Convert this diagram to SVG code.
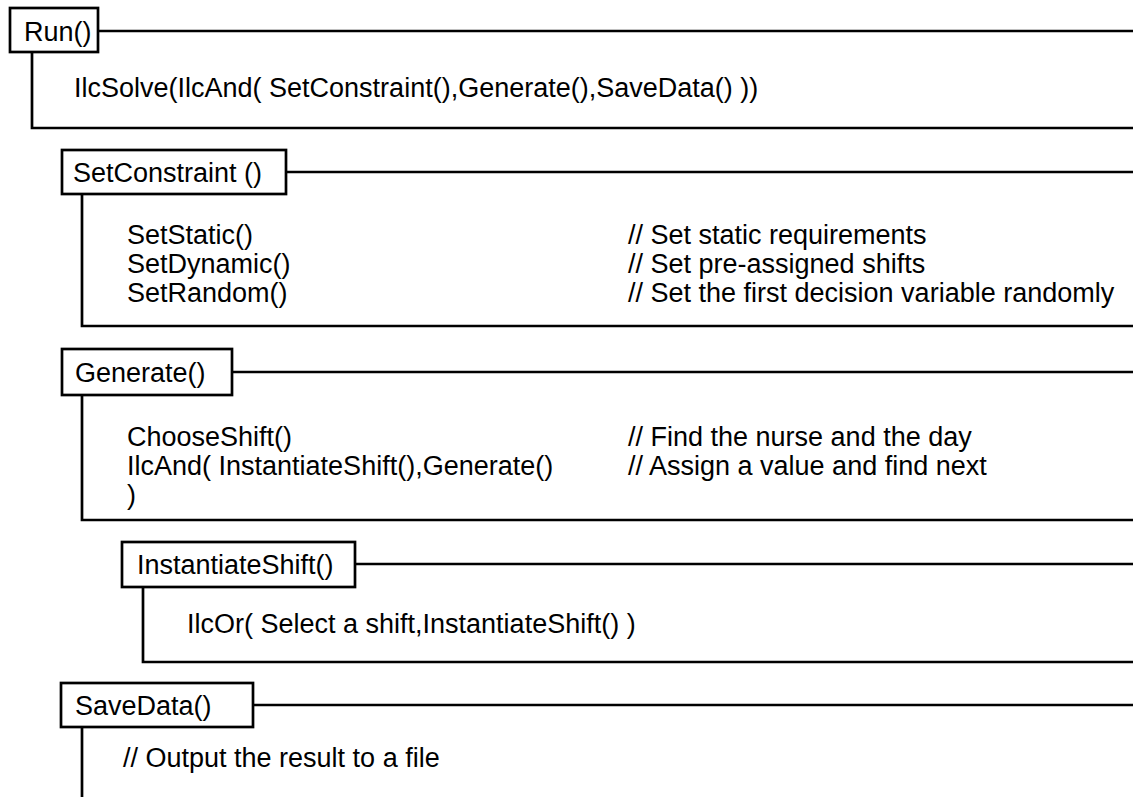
<svg xmlns="http://www.w3.org/2000/svg" width="1133" height="797" viewBox="0 0 1133 797">
  <style>
    .box { fill: #ffffff; stroke: #000000; stroke-width: 2.7; }
    .rule { fill: none; stroke: #000000; stroke-width: 2.7; }
    text { font-family: "Liberation Sans", Arial, sans-serif; font-size: 27px; fill: #000000; }
  </style>
  <rect width="1133" height="797" fill="#ffffff"/>

  <!-- frame lines: header rule, left bracket and closing rule for each block -->
  <g id="connectors">
    <path class="rule" d="M98 31 H1133"/>
    <path class="rule" d="M32 52 V128 H1133"/>

    <path class="rule" d="M286 172 H1133"/>
    <path class="rule" d="M82 194 V326 H1133"/>

    <path class="rule" d="M232 372 H1133"/>
    <path class="rule" d="M82 395 V520 H1133"/>

    <path class="rule" d="M355 564 H1133"/>
    <path class="rule" d="M143 587 V662 H1133"/>

    <path class="rule" d="M253 705 H1133"/>
    <path class="rule" d="M82 727 V797"/>
  </g>

  <g id="run">
    <rect class="box" x="10" y="8" width="88" height="44"/>
    <text x="24" y="41">Run()</text>
    <text x="74" y="97">IlcSolve(IlcAnd( SetConstraint(),Generate(),SaveData() ))</text>
  </g>

  <g id="setconstraint">
    <rect class="box" x="62" y="150" width="224" height="44"/>
    <text x="73" y="182">SetConstraint ()</text>
    <text x="127" y="244">SetStatic()</text>
    <text x="127" y="273">SetDynamic()</text>
    <text x="127" y="302">SetRandom()</text>
    <text x="628" y="244">// Set static requirements</text>
    <text x="628" y="273">// Set pre-assigned shifts</text>
    <text x="628" y="302">// Set the first decision variable randomly</text>
  </g>

  <g id="generate">
    <rect class="box" x="62" y="349" width="170" height="46"/>
    <text x="75" y="382">Generate()</text>
    <text x="127" y="446">ChooseShift()</text>
    <text x="127" y="475">IlcAnd( InstantiateShift(),Generate()</text>
    <text x="127" y="504">)</text>
    <text x="628" y="446">// Find the nurse and the day</text>
    <text x="628" y="475">// Assign a value and find next</text>
  </g>

  <g id="instantiateshift">
    <rect class="box" x="122" y="542" width="233" height="45"/>
    <text x="137" y="574">InstantiateShift()</text>
    <text x="187" y="633">IlcOr( Select a shift,InstantiateShift() )</text>
  </g>

  <g id="savedata">
    <rect class="box" x="61" y="683" width="192" height="44"/>
    <text x="75" y="715">SaveData()</text>
    <text x="123" y="767">// Output the result to a file</text>
  </g>
</svg>
